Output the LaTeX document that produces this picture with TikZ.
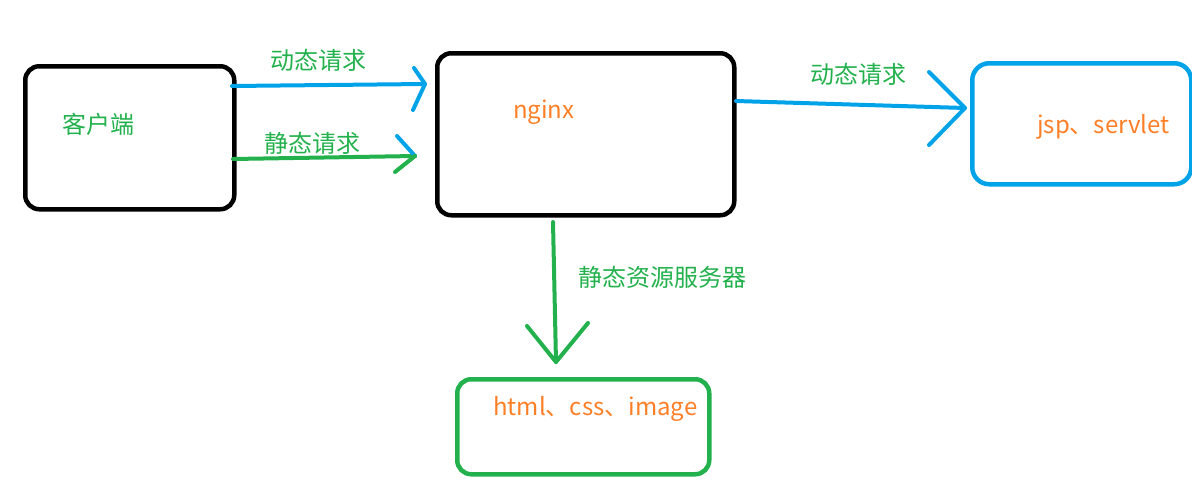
\documentclass[tikz,border=0pt]{standalone}
\usepackage{fontspec}
\newfontfamily\cjk{Noto Sans CJK SC}
\definecolor{pblue}{HTML}{00A2E8}
\definecolor{pgreen}{HTML}{22B14C}
\definecolor{porange}{HTML}{FF7F27}
\begin{document}
\begin{tikzpicture}[x=1pt,y=-1pt,
  box/.style={draw,line width=4.5pt,rounded corners=14pt,inner sep=0pt,anchor=north west},
  lbl/.style={inner sep=0pt,anchor=west,font=\cjk\fontsize{24}{28}\selectfont,text=pgreen},
  ltx/.style={inner sep=0pt,anchor=base west,font=\cjk\fontsize{24}{28}\selectfont,text=porange},
  stroke/.style={line width=4pt,line cap=round,line join=round}]
\useasboundingbox (0,0) rectangle (1192,498);
% boxes
\node[box,black,minimum width=209pt,minimum height=143pt] (client) at (23,64) {};
\node[box,black,minimum width=297pt,minimum height=162pt] (nginx) at (435,51) {};
\node[box,pblue,rounded corners=17pt,minimum width=219pt,minimum height=121pt] (jsp) at (970,61) {};
\node[box,pgreen,minimum width=252pt,minimum height=95pt] (html) at (455,377) {};
% box texts
\node[lbl] (tclient) at (62,124) {客户端};
\node[ltx] (tnginx) at (513,118) {nginx};
\node[ltx] (tjsp) at (1037,133) {jsp、servlet};
\node[ltx] (thtml) at (493,415) {html、css、image};
% arrow labels
\node[lbl] (l1) at (270,60) {动态请求};
\node[lbl] (l2) at (264,143) {静态请求};
\node[lbl] (l3) at (810,74) {动态请求};
\node[lbl] (l4) at (578,277) {静态资源服务器};
% arrow ends
\coordinate (a1s) at (232,86);
\coordinate (a1t) at (425,84);
\coordinate (a2s) at (233,159);
\coordinate (a2t) at (415,156);
\coordinate (a3s) at (736,101);
\coordinate (a3t) at (965,108);
\coordinate (a4s) at (553,222);
\coordinate (a4t) at (556,362);
% arrows
\draw[stroke,pblue] (a1s) -- (a1t);
\draw[stroke,pblue] (414,68) -- (a1t) -- (413,110);
\draw[stroke,pgreen] (a2s) -- (a2t);
\draw[stroke,pblue] (397,136) -- (a2t);
\draw[stroke,pgreen] (a2t) -- (395,172);
\draw[stroke,pblue] (a3s) -- (a3t);
\draw[stroke,pblue] (929,72) -- (a3t) -- (929,145);
\draw[stroke,pgreen] (a4s) -- (a4t);
\draw[stroke,pgreen] (527,326) -- (a4t) -- (588,323);
\end{tikzpicture}
\end{document}
